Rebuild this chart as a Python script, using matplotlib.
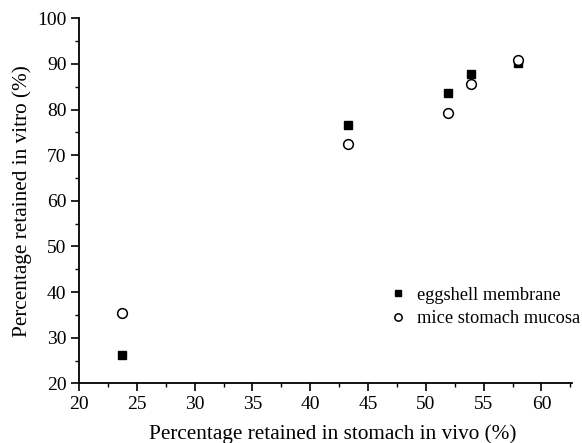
import matplotlib
matplotlib.use("Agg")
import matplotlib.pyplot as plt
from matplotlib.ticker import MultipleLocator

plt.rcParams['font.family'] = ['Liberation Serif', 'DejaVu Serif']

x_vivo = [23.7, 43.3, 51.9, 53.9, 58.0]
eggshell = [26.1, 76.6, 83.6, 87.9, 90.2]
mucosa = [35.5, 72.4, 79.2, 85.7, 90.8]

fig = plt.figure(figsize=(5.82, 4.43), dpi=100)
ax = fig.add_axes([0.1357, 0.1347, 0.8463, 0.824])

ax.plot(x_vivo, eggshell, linestyle='none', marker='s', markersize=6,
        color='black', label='eggshell membrane')
ax.plot(x_vivo, mucosa, linestyle='none', marker='o', markersize=7,
        markerfacecolor='white', markeredgecolor='black', markeredgewidth=1.1,
        label='mice stomach mucosa')

ax.set_xlim(20, 62.6)
ax.set_ylim(20, 100)
ax.xaxis.set_major_locator(MultipleLocator(5))
ax.xaxis.set_minor_locator(MultipleLocator(2.5))
ax.yaxis.set_major_locator(MultipleLocator(10))
ax.yaxis.set_minor_locator(MultipleLocator(5))
ax.spines['top'].set_visible(False)
ax.spines['right'].set_visible(False)
ax.spines['left'].set_linewidth(1.3)
ax.spines['bottom'].set_linewidth(1.3)
ax.tick_params(which='major', direction='out', length=6, width=1.2, labelsize=14, pad=3)
ax.tick_params(which='minor', direction='out', length=3, width=1.0)

ax.set_xlabel('Percentage retained in stomach in vivo (%)', fontsize=15.3)
ax.xaxis.set_label_coords(0.516, -0.112)
ax.set_ylabel('Percentage retained in vitro (%)', fontsize=15.3, labelpad=4)

ax.legend(loc='upper left', bbox_to_anchor=(0.629, 0.265), frameon=False,
          fontsize=13.2, markerscale=0.75, handletextpad=0.55, handlelength=1.0,
          labelspacing=0.35, borderpad=0, borderaxespad=0)

fig.savefig('out.png', dpi=100)
